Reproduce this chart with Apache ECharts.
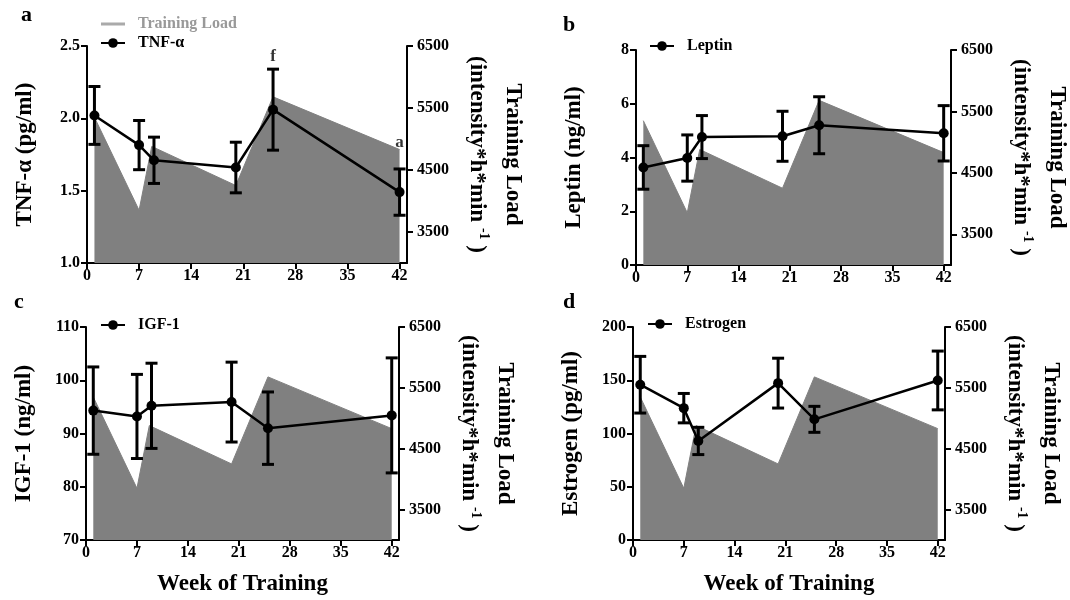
<!DOCTYPE html>
<html>
<head>
<meta charset="UTF-8">
<title>Training load and hormones</title>
<script src="https://cdn.jsdelivr.net/npm/echarts@6/dist/echarts.min.js"></script>
<style>
html, body { margin: 0; padding: 0; background: #fff; }
#chart { width: 1070px; height: 600px; }
</style>
</head>
<body>
<div id="chart"></div>
<script type="text/javascript">
// weeks where blood was sampled
var weeks = [1, 7, 9, 20, 25, 42];
// training load curve (grey area, right axis)
var loadWeeks = [1, 7, 8.7, 20, 25, 42];
var trainingLoad = [5350, 3850, 4880, 4250, 5680, 4830];

var tnfMean = [2.02, 1.815, 1.71, 1.66, 2.06, 1.49];
var tnfSd = [0.2, 0.17, 0.16, 0.175, 0.28, 0.16];
var leptinMean = [3.63, 3.98, 4.76, 4.79, 5.2, 4.9];
var leptinSd = [0.81, 0.86, 0.8, 0.93, 1.06, 1.03];
var igfMean = [94.3, 93.2, 95.2, 95.9, 91.0, 93.4];
var igfSd = [8.2, 7.9, 8.0, 7.5, 6.8, 10.8];
var estMean = [145.8, 123.8, 93.0, 147.3, 113.3, 149.8];
var estSd = [26.6, 13.8, 12.8, 23.4, 12.2, 27.6];

// significance letters on TNF-α panel
var tnfNotes = [[25, 2.425, 'f'], [42, 1.835, 'a']];

var weekTicks = [0, 7, 14, 21, 28, 35, 42];
var loadTicks = [3500, 4500, 5500, 6500];

var FONT = 'Liberation Serif';
var GREY = '#808080';

var panels = [
	{ letter: 'a', name: 'TNF-α', unit: 'TNF-α (pg/ml)', mean: tnfMean, sd: tnfSd, min: 1, max: 2.5, step: 0.5, digits: 1,
	  grid: { left: 87, top: 46, width: 320, height: 217 }, title: { left: 21, top: 4 }, legendPos: { left: 100, top: 16 }, withLoad: true, xName: false },
	{ letter: 'b', name: 'Leptin', unit: 'Leptin (ng/ml)', mean: leptinMean, sd: leptinSd, min: 0, max: 8, step: 2, digits: 0,
	  grid: { left: 636, top: 50, width: 315, height: 215 }, title: { left: 563, top: 14 }, legendPos: { left: 649, top: 38 }, withLoad: false, xName: false },
	{ letter: 'c', name: 'IGF-1', unit: 'IGF-1 (ng/ml)', mean: igfMean, sd: igfSd, min: 70, max: 110, step: 10, digits: 0,
	  grid: { left: 86, top: 327, width: 313, height: 213 }, title: { left: 14, top: 291 }, legendPos: { left: 100, top: 317 }, withLoad: false, xName: true },
	{ letter: 'd', name: 'Estrogen', unit: 'Estrogen (pg/ml)', mean: estMean, sd: estSd, min: 0, max: 200, step: 50, digits: 0,
	  grid: { left: 633, top: 327, width: 312, height: 213 }, title: { left: 563, top: 291 }, legendPos: { left: 647, top: 316 }, withLoad: false, xName: true }
];

var labelStyle = { fontFamily: FONT, fontWeight: 'bold', fontSize: 16, color: '#000' };
var axisLine = { show: true, lineStyle: { color: '#000', width: 2 } };
var axisTick = { show: true, length: 6, lineStyle: { color: '#000', width: 2 } };

function pairs(xs, ys) {
	return xs.map(function (x, i) { return [x, ys[i]]; });
}

function errorData(mean, sd) {
	return weeks.map(function (w, i) { return [w, mean[i] - sd[i], mean[i] + sd[i]]; });
}

function renderError(params, api) {
	var x = api.value(0);
	var lo = api.coord([x, api.value(1)]);
	var hi = api.coord([x, api.value(2)]);
	var cap = 6;
	var style = { stroke: '#000', lineWidth: 3 };
	return {
		type: 'group',
		children: [
			{ type: 'line', shape: { x1: hi[0], y1: hi[1], x2: lo[0], y2: lo[1] }, style: style },
			{ type: 'line', shape: { x1: hi[0] - cap, y1: hi[1], x2: hi[0] + cap, y2: hi[1] }, style: style },
			{ type: 'line', shape: { x1: lo[0] - cap, y1: lo[1], x2: lo[0] + cap, y2: lo[1] }, style: style }
		]
	};
}

var grids = [], xAxes = [], yAxes = [], series = [], legends = [], titles = [];

panels.forEach(function (p, k) {
	grids.push(p.grid);
	titles.push({ text: p.letter, left: p.title.left, top: p.title.top, padding: 0,
		textStyle: { fontFamily: FONT, fontWeight: 'bold', fontSize: 22, color: '#000' } });

	xAxes.push({
		type: 'value', gridIndex: k, min: 0, max: 43,
		name: p.xName ? 'Week of Training' : '', nameLocation: 'middle', nameGap: 33,
		nameTextStyle: { fontFamily: FONT, fontWeight: 'bold', fontSize: 23, color: '#000' },
		axisLine: axisLine,
		axisTick: { show: true, length: 6, lineStyle: { color: '#000', width: 2 }, customValues: weekTicks },
		axisLabel: Object.assign({ margin: 5, customValues: weekTicks }, labelStyle),
		splitLine: { show: false }
	});

	yAxes.push({
		type: 'value', gridIndex: k, position: 'left', min: p.min, max: p.max, interval: p.step,
		name: p.unit, nameLocation: 'middle', nameGap: 50, nameRotate: 90,
		nameTextStyle: { fontFamily: FONT, fontWeight: 'bold', fontSize: 23, color: '#000' },
		axisLine: axisLine, axisTick: axisTick,
		axisLabel: Object.assign({ margin: 7, formatter: function (v) { return v.toFixed(p.digits); } }, labelStyle),
		splitLine: { show: false }
	});

	yAxes.push({
		type: 'value', gridIndex: k, position: 'right', min: 3000, max: 6500,
		name: '{t|Training Load}\n{t|(intensity*h*min }{s|-1}{t| )}',
		nameLocation: 'middle', nameGap: 52, nameRotate: -90,
		nameTextStyle: {
			rich: {
				t: { fontFamily: FONT, fontWeight: 'bold', fontSize: 23, color: '#000', lineHeight: 36 },
				s: { fontFamily: FONT, fontWeight: 'bold', fontSize: 14, color: '#000', lineHeight: 36, padding: [0, 0, 14, 0] }
			}
		},
		axisLine: axisLine,
		axisTick: { show: true, length: 6, lineStyle: { color: '#000', width: 2 }, customValues: loadTicks },
		axisLabel: Object.assign({ margin: 10, customValues: loadTicks, formatter: function (v) { return String(v); } }, labelStyle),
		splitLine: { show: false }
	});

	series.push({
		name: 'Training Load', type: 'line', xAxisIndex: k, yAxisIndex: 2 * k + 1,
		data: pairs(loadWeeks, trainingLoad), symbol: 'none', silent: true,
		lineStyle: { color: GREY, width: 1 },
		itemStyle: { color: GREY },
		areaStyle: { color: GREY, opacity: 1, origin: 'start' },
		z: 1
	});

	series.push({
		name: p.name + ' SD', type: 'custom', xAxisIndex: k, yAxisIndex: 2 * k,
		data: errorData(p.mean, p.sd), renderItem: renderError,
		encode: { x: 0, y: [1, 2] }, silent: true, z: 3
	});

	series.push({
		name: p.name, type: 'line', xAxisIndex: k, yAxisIndex: 2 * k,
		data: pairs(weeks, p.mean), symbol: 'circle', symbolSize: 10,
		lineStyle: { color: '#000', width: 2.5 }, itemStyle: { color: '#000' },
		z: 4
	});

	var legendData = [];
	if (p.withLoad) {
		// plain grey bar as legend mark, no symbol
		legendData.push({ name: 'Training Load',
			icon: 'path://M0,0L0.01,0L0,0.01Z M0,4.5H24V7.5H0Z M24,12L23.99,12L24,11.99Z',
			itemStyle: { color: '#aaaaaa', borderWidth: 0 },
			textStyle: { color: '#999999' } });
	}
	legendData.push(p.name);

	legends.push({
		left: p.legendPos.left, top: p.legendPos.top, orient: 'vertical', padding: 0,
		itemGap: 3, itemWidth: 24, itemHeight: 12, selectedMode: false,
		textStyle: { fontFamily: FONT, fontWeight: 'bold', fontSize: 16, color: '#000', padding: [0, 0, 0, 8] },
		data: legendData
	});
});

series.push({
	name: 'notes', type: 'scatter', xAxisIndex: 0, yAxisIndex: 0,
	data: tnfNotes.map(function (n) { return { value: [n[0], n[1]], name: n[2] }; }),
	symbolSize: 0, silent: true, z: 5,
	label: { show: true, position: 'inside', formatter: '{b}',
		fontFamily: FONT, fontWeight: 'bold', fontSize: 17, color: '#000' }
});

var myChart = echarts.init(document.getElementById('chart'));
myChart.setOption({
	animation: false,
	backgroundColor: '#fff',
	title: titles,
	legend: legends,
	grid: grids,
	xAxis: xAxes,
	yAxis: yAxes,
	series: series
});
</script>
</body>
</html>
